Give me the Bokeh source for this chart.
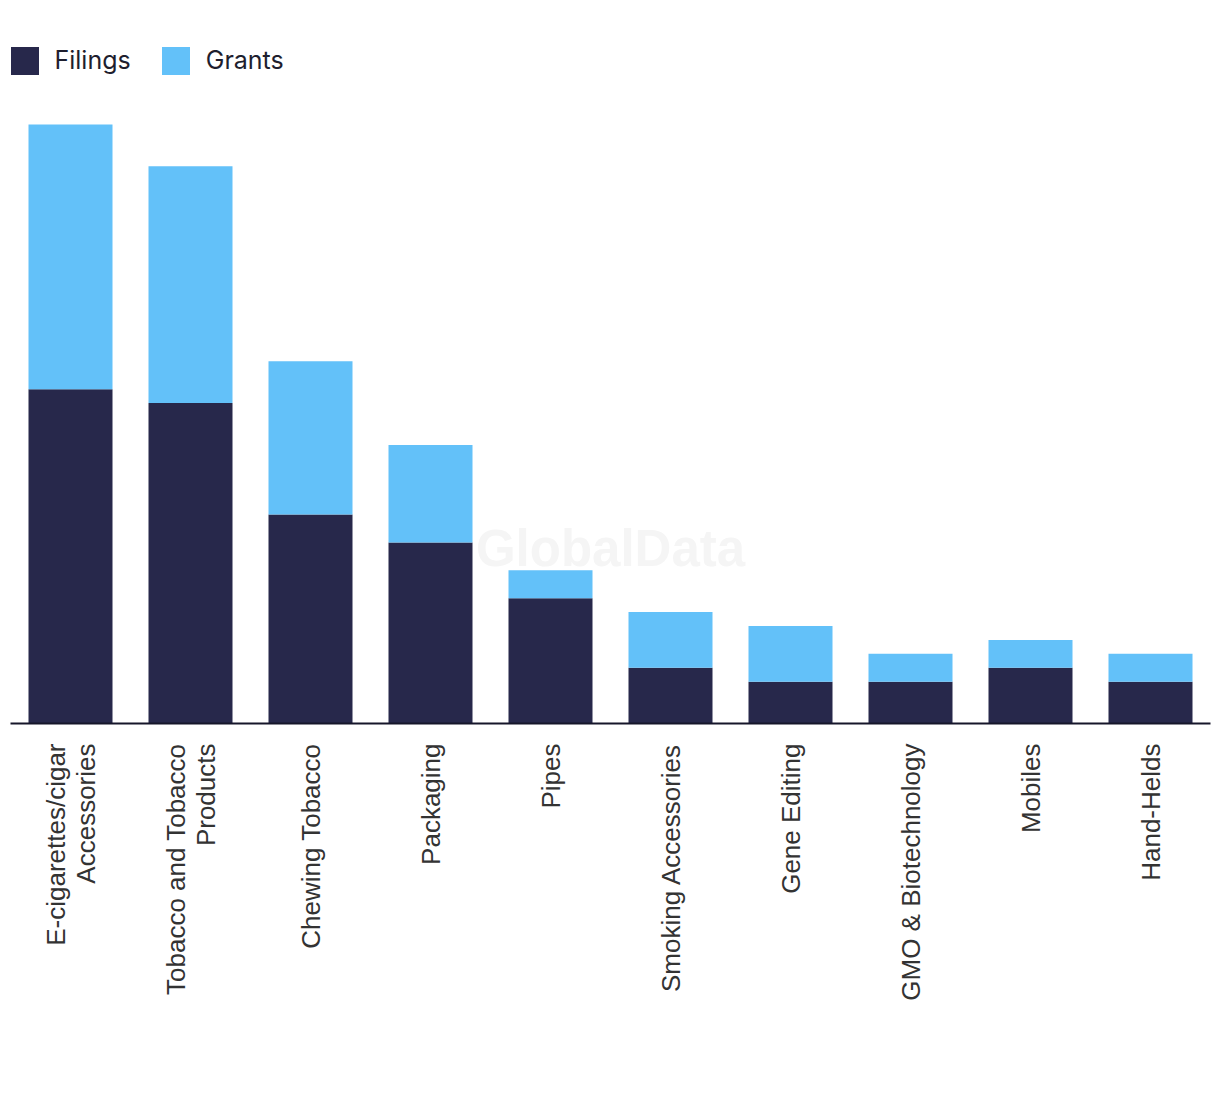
import math
from bokeh.plotting import figure
from bokeh.models import ColumnDataSource, FactorRange, Range1d, Label
from bokeh.embed import file_html
from bokeh.resources import INLINE

categories = [
    "E-cigarettes/cigar\nAccessories",
    "Tobacco and Tobacco\nProducts",
    "Chewing Tobacco",
    "Packaging",
    "Pipes",
    "Smoking Accessories",
    "Gene Editing",
    "GMO & Biotechnology",
    "Mobiles",
    "Hand-Helds",
]
filings = [24, 23, 15, 13, 9, 4, 3, 3, 4, 3]
grants = [19, 17, 11, 7, 2, 4, 4, 2, 2, 2]
series = ["filings", "grants"]
series_labels = ["Filings", "Grants"]
colors = ["#27284b", "#63c1f9"]

source = ColumnDataSource(dict(cat=categories, filings=filings, grants=grants))

p = figure(
    x_range=FactorRange(*categories, range_padding=0),
    y_range=Range1d(0, 48.6),
    width=1212, height=1078,
    min_border_left=10, min_border_right=2,
    min_border_top=46, min_border_bottom=355,
    y_axis_location=None,
    output_backend="svg", toolbar_location=None,
)

p.vbar_stack(series, x="cat", width=0.7, color=colors, source=source,
             legend_label=series_labels, line_color=None)

wm = Label(x=600, y=175, x_units="screen", y_units="screen", text="GlobalData",
           text_font="Liberation Sans", text_font_style="bold", text_font_size="51px",
           text_color="#f5f5f5", text_align="center", text_baseline="middle")
p.add_layout(wm)

p.xgrid.visible = False
p.ygrid.visible = False
p.outline_line_color = None
p.background_fill_color = "white"

ax = p.xaxis[0]
ax.axis_line_color = "#16162a"
ax.axis_line_width = 2
ax.major_tick_line_color = None
ax.minor_tick_line_color = None
ax.major_tick_out = 0
ax.major_tick_in = 0
ax.major_label_standoff = 20
ax.major_label_orientation = math.pi / 2
ax.major_label_text_font = "Liberation Sans"
ax.major_label_text_font_size = "26px"
ax.major_label_text_color = "#333333"
ax.major_label_text_line_height = 1.0

lg = p.legend[0]
lg.location = (-3.5, 645.5)
lg.orientation = "horizontal"
lg.margin = 0
lg.padding = 0
lg.spacing = 27
lg.glyph_width = 35
lg.glyph_height = 35
lg.label_standoff = 13
lg.label_text_font = "Inter"
lg.label_text_font_size = "25px"
lg.label_text_color = "#1e1e2e"
lg.background_fill_alpha = 0
lg.border_line_color = None

open("out.html", "w").write(file_html(p, INLINE))
